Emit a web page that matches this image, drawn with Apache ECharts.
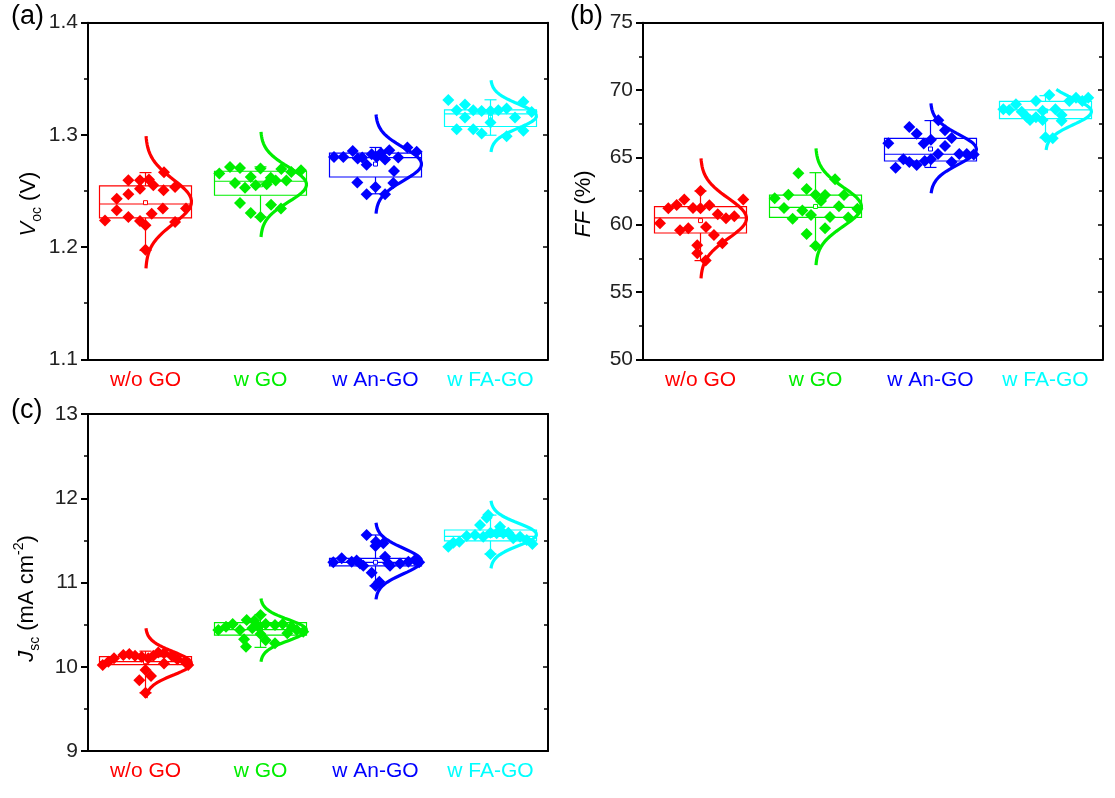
<!DOCTYPE html>
<html>
<head>
<meta charset="utf-8">
<script src="https://cdn.jsdelivr.net/npm/echarts@6/dist/echarts.min.js"></script>
<style>
  html, body { margin: 0; padding: 0; background: #fff; }
  #chart { width: 1115px; height: 798px; }
</style>
</head>
<body>
<div id="chart"></div>
<script>
// ---------------- DATA ----------------
const categories = ['w/o GO', 'w GO', 'w An-GO', 'w FA-GO'];
const colors = ['#ff0000', '#00ee00', '#0000ff', '#00ffff'];

// Box statistics per group: [lowWhisker, Q1, median, Q3, highWhisker, mean]
const vocBox = [
  [1.1970, 1.2260, 1.2384, 1.2545, 1.2664, 1.2396],
  [1.2268, 1.2462, 1.2587, 1.2676, 1.2715, 1.2555],
  [1.2475, 1.2625, 1.2798, 1.2837, 1.2888, 1.2740],
  [1.2997, 1.3075, 1.3188, 1.3223, 1.3313, 1.3160]
];
const ffBox = [
  [57.33, 59.38, 60.50, 61.34, 62.50, 60.30],
  [58.40, 60.54, 61.29, 62.20, 63.86, 61.35],
  [64.25, 64.73, 65.23, 66.41, 67.73, 65.62],
  [66.45, 67.88, 68.52, 69.15, 69.58, 68.45]
];
const jscBox = [
  [9.69, 10.025, 10.06, 10.12, 10.185, 10.06],
  [10.23, 10.375, 10.44, 10.523, 10.62, 10.44],
  [10.96, 11.198, 11.24, 11.287, 11.564, 11.24],
  [11.338, 11.494, 11.548, 11.623, 11.80, 11.56]
];

// Normal-distribution fit per group: [mean, sd, curveFrom, curveTo]
const vocFit = [
  [1.2405, 0.0197, 1.181, 1.299],
  [1.2558, 0.0156, 1.209, 1.3027],
  [1.2740, 0.0148, 1.2298, 1.3182],
  [1.3168, 0.0107, 1.2848, 1.3488]
];
const ffFit = [
  [60.47, 1.487, 56.01, 64.93],
  [61.33, 1.445, 57.00, 65.67],
  [65.60, 1.12, 62.33, 69.01],
  [68.40, 0.97, 65.50, 70.05]
];
const jscFit = [
  [10.04, 0.138, 9.63, 10.456],
  [10.435, 0.125, 10.06, 10.81],
  [11.255, 0.152, 10.80, 11.71],
  [11.57, 0.134, 11.168, 11.971]
];

// Individual devices per group: [horizontal jitter (fraction of category band), value]
const vocPoints = [
  [[-0.352,1.2238],[-0.25,1.2432],[-0.25,1.2328],[-0.149,1.2596],[-0.149,1.2471],[-0.149,1.2268],[-0.048,1.2596],[-0.048,1.2521],[-0.048,1.2232],[0,1.2194],[0.03,1.2602],[0.068,1.2551],[0.054,1.2298],[0.161,1.2667],[0.157,1.2506],[0.151,1.2343],[0.257,1.2536],[0.257,1.2224],[0.352,1.2343],[0,1.1977]],
  [[-0.358,1.2655],[-0.265,1.2715],[-0.178,1.2706],[-0.222,1.2572],[-0.135,1.2530],[-0.178,1.2393],[-0.085,1.2625],[-0.085,1.2304],[-0.042,1.2551],[0,1.2700],[0,1.2268],[0.054,1.2560],[0.089,1.2619],[0.092,1.2378],[0.132,1.2593],[0.181,1.2697],[0.178,1.2343],[0.225,1.2593],[0.268,1.2670],[0.352,1.2685]],
  [[-0.361,1.2804],[-0.28,1.2804],[-0.198,1.2857],[-0.155,1.2789],[-0.115,1.2798],[-0.077,1.2733],[-0.033,1.2828],[0.01,1.2804],[0.048,1.2839],[0.083,1.2780],[0.12,1.2863],[0.198,1.2798],[0.277,1.2887],[0.358,1.2849],[0.161,1.2679],[-0.158,1.2575],[-0.077,1.2471],[0,1.2536],[0.083,1.2471],[0.155,1.2572]],
  [[-0.367,1.331],[-0.294,1.322],[-0.222,1.3271],[-0.222,1.3155],[-0.294,1.3051],[-0.15,1.322],[-0.15,1.3051],[-0.077,1.3214],[-0.077,1.3012],[0,1.3214],[0,1.3111],[0.068,1.322],[0.14,1.3236],[0.14,1.2988],[0.213,1.3155],[0.286,1.3295],[0.286,1.3036],[0.358,1.3205]]
];
const ffPoints = [
  [[-0.352,60.10],[-0.28,61.21],[-0.207,61.46],[-0.141,61.86],[-0.178,59.58],[-0.106,59.73],[-0.065,61.24],[0,62.50],[0,61.21],[0.077,61.44],[0.15,60.77],[0.222,60.47],[0.294,60.62],[0.372,61.86],[0.048,59.83],[0.117,59.23],[0.19,58.61],[-0.028,58.47],[-0.028,57.87],[0.045,57.33]],
  [[-0.355,61.96],[-0.236,62.23],[-0.149,63.81],[-0.274,61.24],[-0.199,60.44],[-0.114,61.06],[-0.077,62.65],[-0.077,59.31],[-0.039,60.72],[0,62.23],[0.048,61.76],[0,58.44],[0.083,62.20],[0.083,59.73],[0.126,60.57],[0.17,63.37],[0.204,61.36],[0.248,62.20],[0.285,60.54],[0.364,61.19]],
  [[-0.367,66.04],[-0.303,64.23],[-0.236,64.85],[-0.184,67.25],[-0.184,64.65],[-0.12,66.76],[-0.12,64.43],[-0.059,66.02],[-0.05,64.73],[0.004,66.31],[0.004,64.85],[0.068,67.75],[0.065,65.25],[0.126,67.01],[0.126,65.84],[0.184,66.44],[0.184,64.65],[0.25,65.25],[0.315,65.25],[0.376,65.22]],
  [[-0.367,68.57],[-0.315,68.52],[-0.257,68.94],[-0.207,68.39],[-0.164,68.02],[-0.135,67.77],[-0.083,69.18],[-0.083,67.97],[-0.025,67.77],[-0.025,68.46],[0.033,69.63],[0.086,68.57],[0.14,68.14],[0.14,67.72],[0.207,69.18],[0.265,69.43],[0.32,69.18],[0.372,69.43],[0,66.49],[0.063,66.41]]
];
const jscPoints = [
  [[-0.372,10.02],[-0.323,10.06],[-0.274,10.10],[-0.193,10.14],[-0.141,10.15],[-0.091,10.13],[-0.033,10.12],[0.024,10.10],[0.068,10.13],[0.111,10.17],[0.161,10.04],[0.228,10.13],[0.277,10.09],[0.343,10.06],[0.372,10.02],[0,9.96],[-0.054,9.84],[0.048,9.89],[0,9.69],[0.161,10.16]],
  [[-0.367,10.436],[-0.3,10.475],[-0.242,10.507],[-0.143,10.326],[-0.178,10.436],[-0.12,10.555],[-0.071,10.456],[-0.054,10.546],[0,10.614],[0,10.389],[-0.019,10.475],[0.045,10.507],[-0.126,10.238],[0.045,10.316],[0.126,10.496],[0.126,10.278],[0.193,10.507],[0.233,10.397],[0.271,10.475],[0.315,10.436],[0.372,10.416]],
  [[-0.367,11.24],[-0.294,11.287],[-0.207,11.247],[-0.135,11.227],[-0.106,11.20],[-0.077,11.564],[-0.033,11.116],[0,11.433],[0.004,11.485],[0.033,11.01],[0,10.96],[0.068,11.465],[0.083,11.306],[0.111,11.227],[0.126,11.20],[0.213,11.227],[0.286,11.247],[0.343,11.267],[0.38,11.24],[-0.164,11.26]],
  [[-0.367,11.425],[-0.323,11.473],[-0.271,11.485],[-0.207,11.552],[-0.135,11.564],[-0.091,11.683],[-0.063,11.544],[-0.033,11.77],[0,11.59],[0,11.338],[0.054,11.584],[0.083,11.663],[0.111,11.584],[0.155,11.59],[0.198,11.524],[0.257,11.544],[0.315,11.504],[0.364,11.457],[-0.02,11.80]]
];

// Axis ranges / ticks
const vocTicks = { min: 1.1, max: 1.4, interval: 0.1 };
const ffTicks  = { min: 50, max: 75, interval: 5 };
const jscTicks = { min: 9, max: 13, interval: 1 };

// ---------------- CHART ----------------
const FONT = '"Liberation Sans", Arial, Helvetica, sans-serif';
const BOX_HALF = 0.4;   // box half-width as fraction of category band

const nameRich = {
  i:   { fontStyle: 'italic', fontSize: 22, fontFamily: FONT, lineHeight: 30, verticalAlign: 'middle', color: '#000' },
  n:   { fontSize: 22, fontFamily: FONT, lineHeight: 30, verticalAlign: 'middle', color: '#000' },
  sub: { fontSize: 14, fontFamily: FONT, lineHeight: 30, verticalAlign: 'bottom', color: '#000' },
  sup: { fontSize: 14, fontFamily: FONT, lineHeight: 30, verticalAlign: 'top', color: '#000' }
};

const panels = [
  { label: '(a)', labelPos: [11, 3], grid: { left: 88, top: 22.7, width: 460, height: 336.6 },
    ticks: vocTicks, box: vocBox, fit: vocFit, pts: vocPoints, decimals: 1,
    name: '{i|V}{sub|oc}{n| (V)}', nameGap: 44, namePad: 26 },
  { label: '(b)', labelPos: [570, 3], grid: { left: 643, top: 22.7, width: 460, height: 336.6 },
    ticks: ffTicks, box: ffBox, fit: ffFit, pts: ffPoints, decimals: 0,
    name: '{i|FF}{n| (%)}', nameGap: 44, namePad: 26 },
  { label: '(c)', labelPos: [11, 397], grid: { left: 88, top: 414, width: 460, height: 337 },
    ticks: jscTicks, box: jscBox, fit: jscFit, pts: jscPoints, decimals: 0,
    name: '{i|J}{sub|sc}{n| (mA cm}{sup|-2}{n|)}', nameGap: 46, namePad: 32 }
];

const axisLineStyle = { color: '#000', width: 2 };

function renderBox(params, api) {
  const i = api.value(0);
  const lo = api.value(1), q1 = api.value(2), med = api.value(3),
        q3 = api.value(4), hi = api.value(5), mean = api.value(6);
  const color = colors[i];
  const band = api.size([1, 0])[0];
  const hw = band * BOX_HALF;
  const cx = api.coord([i, med])[0];
  const y = v => api.coord([i, v])[1];
  const capHW = 6;
  const st = { stroke: color, lineWidth: 1.2, fill: 'none' };
  return {
    type: 'group',
    children: [
      { type: 'rect', shape: { x: cx - hw, y: y(q3), width: 2 * hw, height: y(q1) - y(q3) }, style: st },
      { type: 'line', shape: { x1: cx - hw, y1: y(med), x2: cx + hw, y2: y(med) }, style: st },
      { type: 'line', shape: { x1: cx, y1: y(q3), x2: cx, y2: y(hi) }, style: st },
      { type: 'line', shape: { x1: cx, y1: y(q1), x2: cx, y2: y(lo) }, style: st },
      { type: 'line', shape: { x1: cx - capHW, y1: y(hi), x2: cx + capHW, y2: y(hi) }, style: st },
      { type: 'line', shape: { x1: cx - capHW, y1: y(lo), x2: cx + capHW, y2: y(lo) }, style: st },
      { type: 'rect', shape: { x: cx - 2, y: y(mean) - 2, width: 4, height: 4 }, style: { stroke: color, lineWidth: 1, fill: '#fff' } }
    ]
  };
}

function gaussCurve(i, f) {
  const [m, s, from, to] = f;
  const n = 90, out = [];
  for (let k = 0; k <= n; k++) {
    const v = to - (to - from) * k / n;
    const d = BOX_HALF * Math.exp(-0.5 * Math.pow((v - m) / s, 2));
    out.push([i + d, v]);
  }
  return out;
}

const option = {
  animation: false,
  backgroundColor: '#fff',
  grid: [], xAxis: [], yAxis: [], series: [], graphic: []
};

panels.forEach((p, k) => {
  option.grid.push(Object.assign({ containLabel: false }, p.grid));
  // bottom category axis (labels)
  option.xAxis.push({
    type: 'category', gridIndex: k, position: 'bottom',
    data: categories.map((c, i) => ({ value: c, textStyle: { color: colors[i] } })),
    axisLine: { onZero: false, lineStyle: axisLineStyle },
    axisTick: { alignWithLabel: true, length: 7, lineStyle: { color: '#000', width: 2 } },
    axisLabel: { interval: 0, fontSize: 21, fontFamily: FONT, margin: 10 },
    splitLine: { show: false }
  });
  // top frame axis
  option.xAxis.push({
    type: 'category', gridIndex: k, position: 'top', data: categories,
    axisLine: { onZero: false, lineStyle: axisLineStyle },
    axisTick: { alignWithLabel: true, length: 3, lineStyle: { color: '#000', width: 1.5 } },
    axisLabel: { show: false }, splitLine: { show: false }
  });
  // hidden value axis for positioning marks
  option.xAxis.push({ type: 'value', gridIndex: k, min: -0.5, max: 3.5, show: false, axisLine: { onZero: false } });

  option.yAxis.push({
    type: 'value', gridIndex: k, position: 'left',
    min: p.ticks.min, max: p.ticks.max, interval: p.ticks.interval,
    axisLine: { show: true, onZero: false, lineStyle: axisLineStyle },
    axisTick: { show: true, length: 7, lineStyle: { color: '#000', width: 2 } },
    minorTick: { show: true, splitNumber: 2, length: 4, lineStyle: { color: '#000', width: 1.5 } },
    axisLabel: { fontSize: 21, fontFamily: FONT, color: '#222', margin: 10,
                 formatter: v => v.toFixed(p.decimals) },
    splitLine: { show: false },
    name: p.name, nameLocation: 'middle', nameGap: p.nameGap, nameRotate: 90,
    nameTextStyle: { fontSize: 22, fontFamily: FONT, color: '#000', padding: [0, p.namePad, 0, 0], rich: nameRich }
  });
  option.yAxis.push({
    type: 'value', gridIndex: k, position: 'right',
    min: p.ticks.min, max: p.ticks.max, interval: p.ticks.interval,
    axisLine: { show: true, onZero: false, lineStyle: axisLineStyle },
    axisTick: { show: true, inside: true, length: 5, lineStyle: { color: '#000', width: 1.5 } },
    minorTick: { show: true, splitNumber: 2, length: 4, lineStyle: { color: '#000', width: 1.5 } },
    axisLabel: { show: false }, splitLine: { show: false }
  });

  const xi = 3 * k + 2, yi = 2 * k;
  option.series.push({
    type: 'custom', xAxisIndex: xi, yAxisIndex: yi, z: 2,
    data: p.box.map((b, i) => [i].concat(b)),
    encode: { x: 0, y: [1, 2, 3, 4, 5, 6] },
    renderItem: renderBox, silent: true
  });
  p.pts.forEach((g, i) => {
    option.series.push({
      type: 'scatter', xAxisIndex: xi, yAxisIndex: yi, z: 3,
      symbol: 'diamond', symbolSize: 12,
      itemStyle: { color: colors[i], opacity: 1 },
      data: g.map(([dx, v]) => [i + dx, v]), silent: true
    });
  });
  p.fit.forEach((f, i) => {
    option.series.push({
      type: 'line', xAxisIndex: xi, yAxisIndex: yi, z: 4,
      showSymbol: false, smooth: false,
      lineStyle: { color: colors[i], width: 3.2 },
      data: gaussCurve(i, f), silent: true
    });
  });

  option.graphic.push({
    type: 'text', left: p.labelPos[0], top: p.labelPos[1],
    style: { text: p.label, font: '27px ' + FONT, fill: '#000' }
  });
});

const chart = echarts.init(document.getElementById('chart'), null, { renderer: 'canvas' });
chart.setOption(option);
</script>
</body>
</html>
